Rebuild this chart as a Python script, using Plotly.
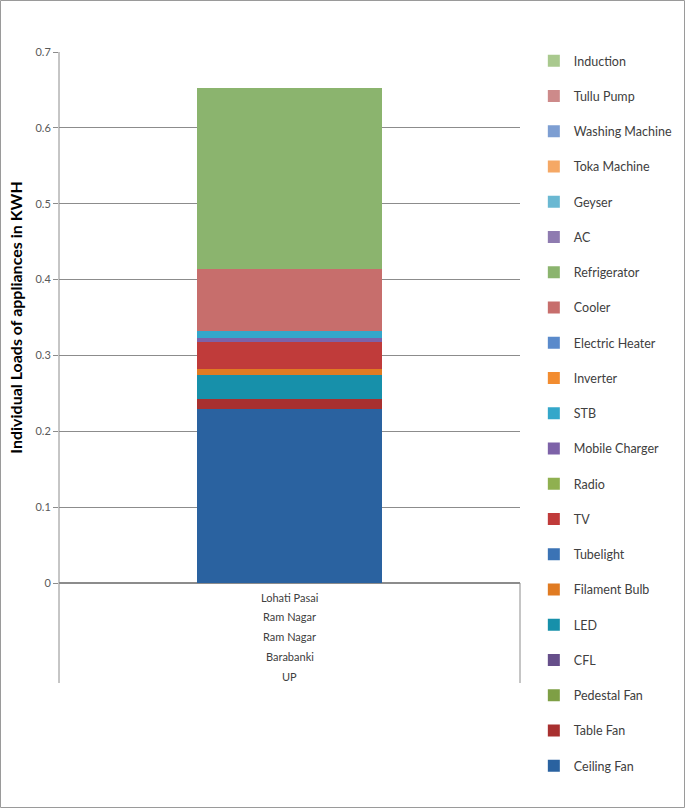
import plotly.graph_objects as go

# Appliances, bottom of the stack first
appliances = ["Ceiling Fan", "Table Fan", "Pedestal Fan", "CFL", "LED", "Filament Bulb",
              "Tubelight", "TV", "Radio", "Mobile Charger", "STB", "Inverter",
              "Electric Heater", "Cooler", "Refrigerator", "AC", "Geyser", "Toka Machine",
              "Washing Machine", "Tullu Pump", "Induction"]
loads = [0.230, 0.012, 0, 0, 0.032, 0.008,
         0, 0.036, 0, 0.005, 0.009, 0,
         0, 0.082, 0.238, 0, 0, 0,
         0, 0, 0]
colors = ["#2A62A0", "#A8302F", "#7E9F45", "#664F8A", "#1790AA", "#E07B22",
          "#3B73B5", "#C03B3A", "#8FB050", "#7D62A8", "#34A7CA", "#F28C30",
          "#5A8ACB", "#C76E6C", "#8BB46E", "#8E7BB0", "#6AB8D2", "#F5A865",
          "#7D9ED2", "#CD8A8A", "#A9C98E"]

# multi-level category (village / gram panchayat / block / district / state)
location_levels = ["Lohati Pasai", "Ram Nagar", "Ram Nagar", "Barabanki", "UP"]
category = location_levels[0]

y_ticks = [0, 0.1, 0.2, 0.3, 0.4, 0.5, 0.6, 0.7]

FONT = "Lato"
GRID = "#8C8C8C"

fig = go.Figure()
n = len(appliances)
for i, (name, val, col) in enumerate(zip(appliances, loads, colors)):
    fig.add_trace(go.Bar(
        x=[category], y=[val], name=name,
        marker=dict(color=col, line=dict(width=0)),
        legendgroup=name, legendrank=n - i,
    ))

# category labels, one line per level
for i, lab in enumerate(location_levels):
    fig.add_annotation(x=category, y=0, xref="x", yref="y", text=lab, showarrow=False,
                       yshift=-(14 + 19.8 * i), yanchor="middle",
                       font=dict(family=FONT, size=11, color="#404040"))

plot_h = 531
fig.add_shape(type="line", xref="paper", yref="paper", x0=0, x1=0, y0=1, y1=-100 / plot_h,
              line=dict(color=GRID, width=1))
fig.add_shape(type="line", xref="paper", yref="paper", x0=1, x1=1, y0=0, y1=-100 / plot_h,
              line=dict(color=GRID, width=1))
# chart border
fig.add_shape(type="rect", xref="paper", yref="paper",
              x0=-58.5 / 461, x1=625.5 / 461, y0=-224.5 / plot_h, y1=582.5 / plot_h,
              line=dict(color="#9A9A9A", width=1))

fig.update_layout(
    width=685, height=808,
    margin=dict(l=59, r=165, t=52, b=225, autoexpand=False),
    barmode="stack", bargap=0.6,
    plot_bgcolor="white", paper_bgcolor="white",
    font=dict(family=FONT, size=11, color="#595959"),
    showlegend=True,
    legend=dict(
        x=1.03, xanchor="left", y=1.011, yanchor="top",
        traceorder="grouped", tracegroupgap=16, maxheight=800,
        font=dict(family=FONT, size=12.5, color="#404040"),
        itemwidth=30, bgcolor="rgba(0,0,0,0)",
    ),
    xaxis=dict(showticklabels=False, showgrid=False, ticks="", showline=False, zeroline=False),
    yaxis=dict(
        range=[0, 0.7], tickvals=y_ticks, ticktext=[f"{v:g}" for v in y_ticks],
        showgrid=True, gridcolor=GRID, gridwidth=1,
        zeroline=True, zerolinecolor=GRID,
        ticks="outside", ticklen=5, tickcolor=GRID,
        tickfont=dict(family=FONT, size=11, color="#595959"),
        title=dict(text="<b>Individual Loads of appliances in KWH</b>", standoff=8,
                   font=dict(family=FONT, size=16, color="#000000")),
    ),
)

fig.write_html(
    "out.html",
    config={"displayModeBar": False},
    post_script="document.body.style.margin='0';document.body.style.overflow='hidden';",
)
